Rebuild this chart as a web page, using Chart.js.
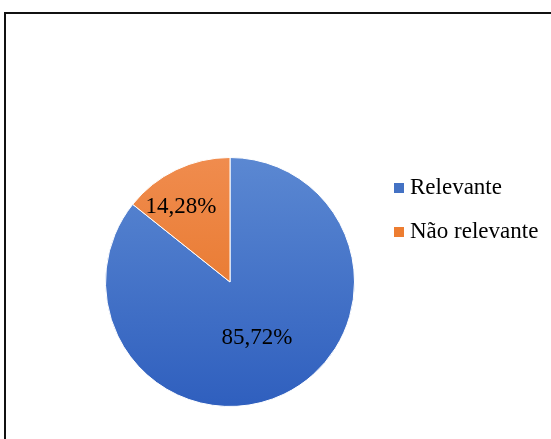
<!DOCTYPE html>
<html>
<head>
  <meta charset="UTF-8">
  <title>Relevância</title>
  <script src="https://cdn.jsdelivr.net/npm/chart.js"></script>
  <style>
    body { margin: 0; background: #fff; }
    #wrap { position: relative; width: 551px; height: 439px; overflow: hidden; }
    #frame { position: absolute; left: 4px; top: 12px; width: 600px; height: 500px;
             border-top: 2px solid #111; border-left: 2px solid #111; }
    #graphCanvas { position: absolute; left: 0; top: 0; }
  </style>
</head>
<body>
<div id="wrap">
  <div id="frame"></div>
  <canvas id="graphCanvas" width="551" height="439"></canvas>
</div>
<script>
  // dados
  var categorias = ['Relevante', 'Não relevante'];
  var valores = [85.72, 14.28];
  var rotulos = ['85,72%', '14,28%'];
  var coresTopo = ['#5B88D2', '#F08C4E'];
  var coresBase = ['#2F5FBE', '#E36D1C'];
  var fonte = 'Liberation Serif';

  function gradiente(ctx) {
    var chart = ctx.chart;
    var area = chart.chartArea;
    if (!area) return coresBase[ctx.dataIndex];
    var g = chart.ctx.createLinearGradient(0, area.top, 0, area.bottom);
    g.addColorStop(0, coresTopo[ctx.dataIndex]);
    g.addColorStop(1, coresBase[ctx.dataIndex]);
    return g;
  }

  // rótulos dentro das fatias + legenda à direita
  var extras = {
    id: 'extras',
    afterDatasetsDraw: function(chart) {
      var c = chart.ctx;
      var arcs = chart.getDatasetMeta(0).data;
      c.save();
      c.fillStyle = '#000';
      c.textAlign = 'center';
      c.textBaseline = 'middle';
      c.font = '23px "' + fonte + '", serif';
      arcs.forEach(function(arc, i) {
        var p = arc.getProps(['x', 'y', 'startAngle', 'endAngle', 'outerRadius'], true);
        var f = i === 0 ? 0.5 : 0.72;
        var a = (p.startAngle + p.endAngle) / 2 - (i === 0 ? 0 : 0.13);
        c.fillText(rotulos[i], p.x + Math.cos(a) * p.outerRadius * f, p.y + Math.sin(a) * p.outerRadius * f);
      });
      // legenda
      var ys = [188, 232];
      categorias.forEach(function(nome, i) {
        c.fillStyle = i === 0 ? '#4472C4' : '#ED7D31';
        c.fillRect(394, ys[i] - 5, 10, 10);
        c.fillStyle = '#000';
        c.textAlign = 'left';
        c.font = '23px "' + fonte + '", serif';
        c.fillText(nome, 410, ys[i]);
      });
      c.restore();
    }
  };

  new Chart(document.getElementById('graphCanvas'), {
    type: 'pie',
    data: {
      labels: categorias,
      datasets: [{
        data: valores,
        backgroundColor: gradiente,
        borderColor: '#ffffff',
        borderWidth: 1
      }]
    },
    options: {
      responsive: false,
      animation: false,
      layout: { padding: { left: 105, right: 196, top: 157, bottom: 32 } },
      plugins: { legend: { display: false }, tooltip: { enabled: false } }
    },
    plugins: [extras]
  });
</script>
</body>
</html>
